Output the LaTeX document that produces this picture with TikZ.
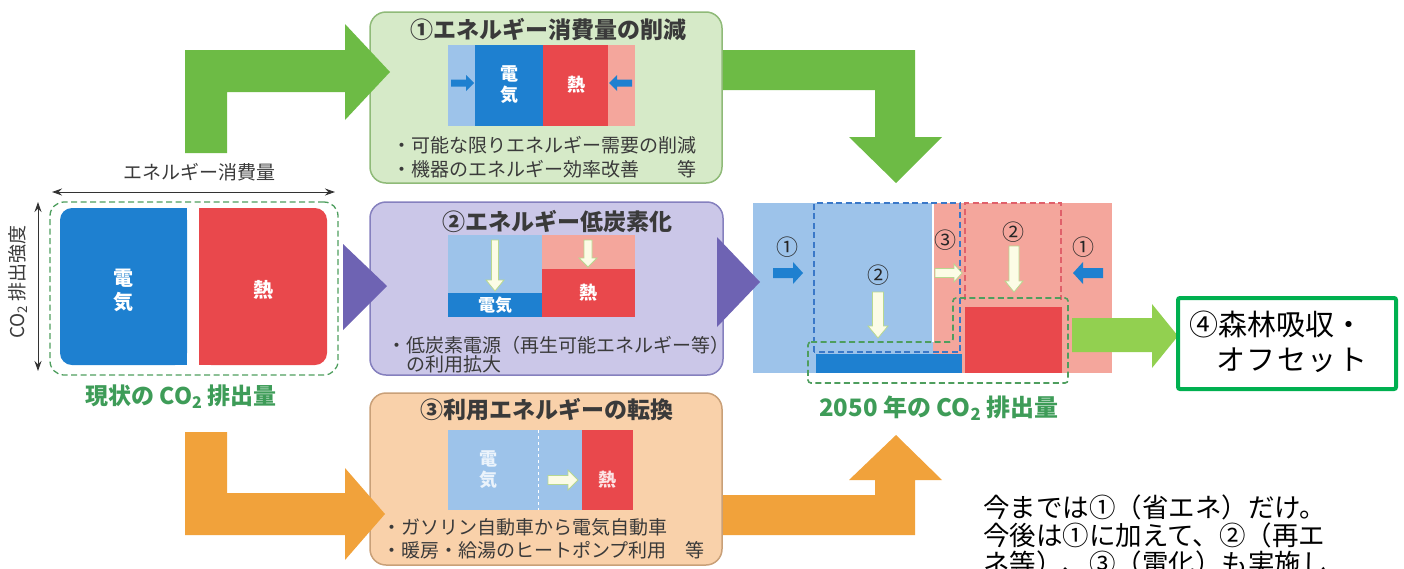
\documentclass[tikz,border=0pt]{standalone}
\usepackage{fontspec}
\setmainfont{Noto Sans CJK JP}
\usetikzlibrary{arrows.meta}
\definecolor{garrow}{HTML}{6DBB45}
\definecolor{gfill}{HTML}{D6EAC8}
\definecolor{gline}{HTML}{8FBA78}
\definecolor{pfill}{HTML}{CBC7E8}
\definecolor{pline}{HTML}{8580BE}
\definecolor{parrow}{HTML}{6E63B3}
\definecolor{ofill}{HTML}{F9D1AA}
\definecolor{oline}{HTML}{C9A078}
\definecolor{oarrow}{HTML}{F1A23B}
\definecolor{dblue}{HTML}{1E80D0}
\definecolor{lblue}{HTML}{9DC3EA}
\definecolor{dred}{HTML}{E9484C}
\definecolor{lred}{HTML}{F4A69C}
\definecolor{gtext}{HTML}{3E9C58}
\definecolor{gdash}{HTML}{4E9E5E}
\definecolor{bdash}{HTML}{3A78C8}
\definecolor{rdash}{HTML}{E0606A}
\definecolor{lgarrow}{HTML}{92D050}
\definecolor{boxgreen}{HTML}{00B050}
\definecolor{wfill}{HTML}{FCFCE6}
\definecolor{wline}{HTML}{B8D890}
\definecolor{txt}{HTML}{3A3A3A}
% horizontal block arrow: tail x, tip x, y, stem half, head half, signed head length, style
\newcommand{\arrH}[7]{%
 \filldraw[#7] (#1,{#3-(#4)}) -- ({#2-(#6)},{#3-(#4)}) -- ({#2-(#6)},{#3-(#5)}) -- (#2,#3)
  -- ({#2-(#6)},{#3+(#5)}) -- ({#2-(#6)},{#3+(#4)}) -- (#1,{#3+(#4)}) -- cycle;}
% vertical block arrow: x, tail y, tip y, stem half, head half, signed head length, style
\newcommand{\arrV}[7]{%
 \filldraw[#7] ({#1-(#4)},#2) -- ({#1-(#4)},{#3-(#6)}) -- ({#1-(#5)},{#3-(#6)}) -- (#1,#3)
  -- ({#1+(#5)},{#3-(#6)}) -- ({#1+(#4)},{#3-(#6)}) -- ({#1+(#4)},#2) -- cycle;}
\begin{document}
\begin{tikzpicture}[x=1pt,y=-1pt,
  every node/.style={inner sep=0pt, text=txt},
  font=\fontsize{19}{23}\selectfont,
  rbox/.style={rectangle, rounded corners=16pt, line width=1.5pt},
  ttl/.style={font=\fontsize{23}{27}\selectfont\bfseries, text=txt},
  bul/.style={anchor=west, font=\fontsize{19}{23}\selectfont},
  wt/.style={text=white, font=\fontsize{18}{21}\selectfont\bfseries, align=center},
  wa/.style={fill=wfill, draw=wline, line width=0.8pt},
  ba/.style={fill=dblue, draw=none},
  num/.style={font=\fontsize{22}{24}\selectfont, text=black!85},
  gdsh/.style={dash pattern=on 6pt off 3.5pt, line width=1.6pt},
  gl/.style={font=\fontsize{23}{27}\selectfont\bfseries, text=gtext},
  dim/.style={{Stealth[length=10pt,width=7pt]}-{Stealth[length=10pt,width=7pt]}, line width=1pt, black!80}
]
\useasboundingbox (0,0) rectangle (1404,568);
\clip (0,0) rectangle (1404,568);

% ---------- boxes ----------
\node[rbox, fill=gfill, draw=gline, minimum width=352pt, minimum height=171pt] (b1) at (546,97.5) {};
\node[rbox, fill=pfill, draw=pline, minimum width=353pt, minimum height=173pt] (b2) at (546.5,288.5) {};
\node[rbox, fill=ofill, draw=oline, minimum width=352pt, minimum height=172pt] (b3) at (546,479) {};

% ---------- box 1 ----------
\node[ttl] (t1) at (548,30) {①エネルギー消費量の削減};
\fill[lblue] (448,45) rectangle (475,126);
\fill[dblue] (475,45) rectangle (543,126);
\fill[dred] (543,45) rectangle (608,126);
\fill[lred] (608,45) rectangle (635,126);
\node[wt] (e1) at (509,85) {電\\気};
\node[wt] (h1) at (576,85) {熱};
\arrH{451}{474}{83}{3.5}{8}{8}{ba}
\arrH{632}{609}{83}{3.5}{8}{-8}{ba}
\node[bul] (l1a) at (392,145) {・可能な限りエネルギー需要の削減};
\node[bul] (l1b) at (392,169) {・機器のエネルギー効率改善　　等};

% ---------- box 2 ----------
\node[ttl] (t2) at (557,222) {②エネルギー低炭素化};
\fill[lblue] (448,235) rectangle (542,317);
\fill[dblue] (448,293) rectangle (542,317);
\fill[lred] (542,235) rectangle (635,317);
\fill[dred] (542,269) rectangle (635,317);
\node[wt, font=\fontsize{17}{20}\selectfont\bfseries] (e2) at (495,305) {電気};
\node[wt] (h2) at (588,293) {熱};
\arrV{495}{240}{291}{3.5}{9}{11}{wa}
\arrV{588}{240}{267}{4}{9}{9}{wa}
\node[bul] (l2a) at (387,345) {・低炭素電源（再生可能エネルギー等）};
\node[bul] (l2b) at (406,364) {の利用拡大};

% ---------- box 3 ----------
\node[ttl] (t3) at (547,410) {③利用エネルギーの転換};
\fill[lblue] (448,430) rectangle (582,510);
\fill[dred] (582,430) rectangle (633,510);
\draw[white, dashed, line width=0.6pt] (538,430) -- (538,510);
\node[wt, text=white!80!lblue] (e3) at (488,470) {電\\気};
\node[wt, text=white!85!dred] (h3) at (607,480) {熱};
\arrH{548}{578}{480}{4.5}{10}{10}{wa}
\node[bul] (l3a) at (382,527) {・ガソリン自動車から電気自動車};
\node[bul] (l3b) at (382,550) {・暖房・給湯のヒートポンプ利用　等};

% ---------- current emissions ----------
\node[draw=gdash, gdsh, line width=1.3pt, rounded corners=14pt, minimum width=288pt, minimum height=173pt] (cur) at (194,288.5) {};
\fill[dblue, rounded corners=12pt] (60,208) rectangle (187,365);
\fill[dblue] (120,208) rectangle (187,365);
\fill[dred, rounded corners=12pt] (199,208) rectangle (327,365);
\fill[dred] (199,208) rectangle (260,365);
\node[wt, font=\fontsize{20}{24}\selectfont\bfseries] (e0) at (123,290) {電\\気};
\node[wt, font=\fontsize{20}{24}\selectfont\bfseries] (h0) at (263,290) {熱};
\node (elab) at (199,172) {エネルギー消費量};
\coordinate (dl) at (52,192); \coordinate (dr) at (335,192);
\draw[dim] (dl) -- (dr);
\coordinate (vt) at (38,202); \coordinate (vb) at (38,371);
\draw[dim] (vt) -- (vb);
\node[rotate=90] (vlab) at (18,282) {CO\textsubscript{2} 排出強度};
\node[gl] (curlab) at (181,397) {現状の CO\textsubscript{2} 排出量};

% ---------- 2050 chart ----------
\fill[lblue] (753,203) rectangle (933,373);
\fill[lred] (933,203) rectangle (1112,373);
\draw[white, line width=1.5pt] (933,203) -- (933,342);
\draw[bdash, gdsh, line width=1.4pt] (814,352) -- (814,203) -- (960,203) -- (960,352) -- cycle;
\draw[rdash, gdsh, line width=1.4pt] (965,300) -- (965,203) -- (1061,203) -- (1061,300);
\fill[dblue] (816,354) rectangle (962,373);
\fill[dred] (965,307) rectangle (1062,373);
\draw[gdash, gdsh, line width=1.6pt, rounded corners=3pt] (808,342) -- (953,342) -- (953,298) -- (1068,298) -- (1068,383) -- (808,383) -- cycle;
\node[num] (c1l) at (787,247) {①};
\arrH{773}{803}{273}{5}{11}{10}{ba}
\node[num] (c2l) at (878,275) {②};
\arrV{878}{292}{338}{5.5}{10}{12}{wa}
\node[num] (c3) at (945,240) {③};
\arrH{935}{962}{273}{4.5}{9}{8}{wa}
\node[num] (c2r) at (1013,232) {②};
\arrV{1014}{246}{292}{5}{9}{11}{wa}
\node[num] (c1r) at (1083,247) {①};
\arrH{1103}{1073}{273}{5}{11}{-10}{ba}
\node[gl, font=\fontsize{24}{28}\selectfont\bfseries] (futlab) at (939,408) {2050 年の CO\textsubscript{2} 排出量};

% ---------- fat arrows ----------
\fill[garrow] (185,153) -- (185,50) -- (345,50) -- (345,24) -- (390,72) -- (345,120) -- (345,92) -- (227,92) -- (227,153) -- cycle;
\fill[garrow] (723,50) -- (915,50) -- (915,137) -- (942,137) -- (896,183) -- (849,137) -- (875,137) -- (875,90) -- (723,90) -- cycle;
\fill[parrow] (343,244) -- (387,286) -- (343,330) -- cycle;
\fill[parrow] (717,237) -- (760,282) -- (717,327) -- cycle;
\fill[oarrow] (185,432) -- (227,432) -- (227,493) -- (345,493) -- (345,468) -- (385,514) -- (345,560) -- (345,535) -- (185,535) -- cycle;
\fill[oarrow] (723,495) -- (875,495) -- (875,480) -- (849,480) -- (896,435) -- (942,480) -- (915,480) -- (915,535) -- (723,535) -- cycle;

% ---------- offset ----------
\fill[lgarrow] (1072,318) -- (1152,318) -- (1152,304) -- (1178,336) -- (1152,368) -- (1152,352) -- (1072,352) -- cycle;
\node[draw=boxgreen, line width=4pt, fill=white, rounded corners=2pt, minimum width=218pt, minimum height=91pt] (b4) at (1287,343.5) {};
\node[anchor=west, font=\fontsize{29}{33}\selectfont, text=black] (o1) at (1189,324) {④森林吸収・};
\node[anchor=west, font=\fontsize{29}{33}\selectfont\addfontfeature{LetterSpace=5}, text=black] (o2) at (1216,360) {オフセット};

% ---------- note ----------
\node[anchor=west, font=\fontsize{26.5}{30}\selectfont, text=black] (n1) at (983,507) {今までは①（省エネ）だけ。};
\node[anchor=west, font=\fontsize{26.5}{30}\selectfont, text=black] (n2) at (983,535) {今後は①に加えて、②（再エ};
\node[anchor=west, font=\fontsize{26.5}{30}\selectfont, text=black] (n3) at (983,563) {ネ等）、③（電化）も実施し};
\end{tikzpicture}
\end{document}
